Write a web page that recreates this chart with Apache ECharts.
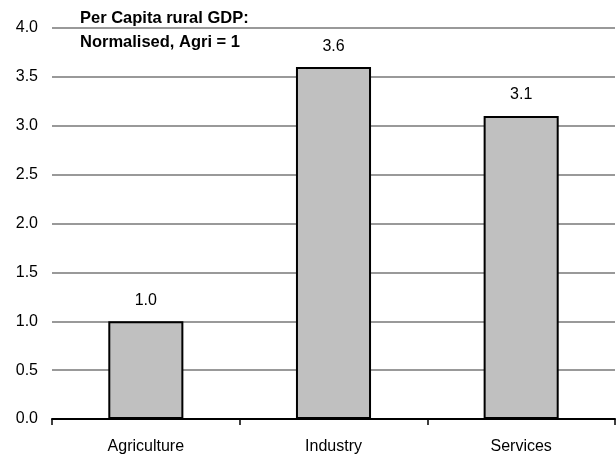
<!DOCTYPE html>
<html>
<head>
<meta charset="utf-8">
<script src="https://cdn.jsdelivr.net/npm/echarts@6/dist/echarts.min.js"></script>
<style>
  html, body { margin: 0; padding: 0; background: #fff; }
  #chart { width: 616px; height: 463px; }
</style>
</head>
<body>
<div id="chart"></div>
<script>
// Sector categories and per-capita rural GDP, normalised so agriculture = 1
const categories = ['Agriculture', 'Industry', 'Services'];
const gdpIndex = [1.0, 3.6, 3.1];
const yTicks = [0, 0.5, 1.0, 1.5, 2.0, 2.5, 3.0, 3.5, 4.0];

const FONT = '"Liberation Sans", Arial, sans-serif';

const chart = echarts.init(document.getElementById('chart'), null, { renderer: 'canvas' });
chart.setOption({
  animation: false,
  backgroundColor: '#ffffff',
  title: {
    text: 'Per Capita rural GDP:\nNormalised, Agri = 1',
    left: 75,
    top: 1,
    textStyle: {
      fontFamily: FONT,
      fontSize: 16.5,
      fontWeight: 'bold',
      color: '#000',
      lineHeight: 24
    }
  },
  grid: { left: 52, right: 1, top: 28, bottom: 44, containLabel: false },
  xAxis: {
    type: 'category',
    data: categories,
    axisLine: { show: true, lineStyle: { color: '#000', width: 2 } },
    axisTick: { show: true, alignWithLabel: false, length: 6, lineStyle: { color: '#000', width: 1.5 } },
    axisLabel: { fontFamily: FONT, fontSize: 16, color: '#000', margin: 20 },
    splitLine: { show: false }
  },
  yAxis: {
    type: 'value',
    min: yTicks[0],
    max: yTicks[yTicks.length - 1],
    interval: 0.5,
    axisLine: { show: false },
    axisTick: { show: false },
    axisLabel: {
      fontFamily: FONT, fontSize: 16, color: '#000', margin: 14,
      formatter: v => v.toFixed(1)
    },
    splitLine: { show: true, lineStyle: { color: '#999', width: 2 } }
  },
  series: [{
    type: 'bar',
    data: gdpIndex,
    barWidth: '40%',
    itemStyle: { color: '#c0c0c0', borderColor: '#000', borderWidth: 2 },
    label: {
      show: true,
      position: 'top',
      distance: 13,
      fontFamily: FONT,
      fontSize: 16,
      color: '#000',
      formatter: p => p.value.toFixed(1)
    }
  }]
});
</script>
</body>
</html>
